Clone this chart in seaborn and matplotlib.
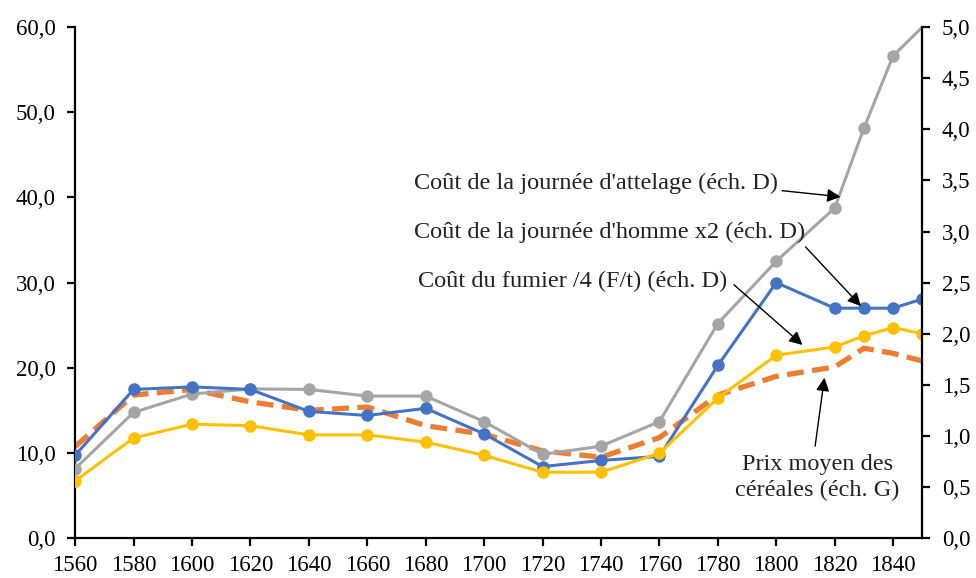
import matplotlib
matplotlib.use("Agg")
import matplotlib.pyplot as plt
import seaborn as sns
from matplotlib.ticker import FuncFormatter, MultipleLocator

years = [1560, 1580, 1600, 1620, 1640, 1660, 1680, 1700, 1720, 1740, 1760,
         1780, 1800, 1820, 1830, 1840, 1850]
# right scale (éch. D)
attelage = [0.68, 1.23, 1.41, 1.46, 1.455, 1.39, 1.39, 1.14, 0.82, 0.90, 1.14,
            2.10, 2.71, 3.23, 4.01, 4.72, 5.00]
homme_x2 = [0.81, 1.455, 1.48, 1.455, 1.24, 1.20, 1.27, 1.02, 0.70, 0.76, 0.80,
            1.69, 2.50, 2.25, 2.25, 2.25, 2.34]
fumier = [0.56, 0.98, 1.115, 1.10, 1.01, 1.01, 0.94, 0.81, 0.645, 0.645, 0.83,
          1.37, 1.79, 1.87, 1.98, 2.06, 2.00]
# left scale (éch. G)
cereales = [10.75, 16.8, 17.45, 16.0, 15.0, 15.4, 13.2, 12.2, 10.25, 9.5, 11.8,
            16.8, 19.0, 20.1, 22.3, 21.7, 20.8]

x_ticks = list(range(1560, 1841, 20))

sns.set_theme(style="ticks")
plt.rcParams["font.family"] = ["Liberation Serif", "DejaVu Serif"]

fig, ax = plt.subplots(figsize=(9.76, 5.78), dpi=100)
fig.subplots_adjust(left=0.077, right=0.945, bottom=0.069, top=0.953)
ax2 = ax.twinx()

# cereal price, dashed, left axis
sns.lineplot(x=years, y=cereales, ax=ax, color="#ED7D31", linewidth=3.8,
             linestyle="--", legend=False)
ax.lines[0].set_dashes((3.2, 1.6))

# right-axis series (the last attelage point has no marker in the source)
line_kw = dict(linewidth=2.2, marker="o", markersize=9, markeredgewidth=0,
               legend=False)
sns.lineplot(x=years, y=attelage, ax=ax2, color="#A5A5A5",
             markevery=list(range(len(years) - 1)), **line_kw)
sns.lineplot(x=years, y=homme_x2, ax=ax2, color="#4472C4", **line_kw)
sns.lineplot(x=years, y=fumier, ax=ax2, color="#FFC000", **line_kw)

ax.set_xlim(1560, 1850)
ax.set_ylim(0, 60)
ax2.set_ylim(0, 5)
ax.set_xticks(x_ticks)
ax.yaxis.set_major_locator(MultipleLocator(10))
ax2.yaxis.set_major_locator(MultipleLocator(0.5))

fr = FuncFormatter(lambda v, _: f"{v:.1f}".replace(".", ","))
ax.yaxis.set_major_formatter(fr)
ax2.yaxis.set_major_formatter(fr)

for a in (ax, ax2):
    a.set_xlabel("")
    a.set_ylabel("")
    a.spines["top"].set_visible(False)
    for s in ("left", "right", "bottom"):
        a.spines[s].set_linewidth(1.6)
        a.spines[s].set_color("black")
    a.tick_params(axis="y", direction="out", length=6, width=1.6,
                  labelsize=16.5, colors="black", pad=8)
    a.tick_params(axis="x", direction="out", length=6, width=1.6,
                  labelsize=16.5, colors="black", pad=6)
ax.spines["right"].set_visible(False)
ax2.spines["left"].set_visible(False)
ax2.spines["bottom"].set_visible(False)

arrow = dict(arrowstyle="-|>", color="black", lw=1.0, mutation_scale=20,
             shrinkA=0, shrinkB=0)
txt = dict(fontsize=17.5, color="#222222", va="center")

ax2.text(1676, 3.47, "Coût de la journée d'attelage (éch. D)", ha="left", **txt)
ax2.annotate("", xy=(1822, 3.34), xytext=(1802, 3.40), arrowprops=arrow)

ax2.text(1676, 2.99, "Coût de la journée d'homme x2 (éch. D)", ha="left", **txt)
ax2.annotate("", xy=(1829, 2.27), xytext=(1810, 2.85), arrowprops=arrow)

ax2.text(1677.5, 2.51, "Coût du fumier /4 (F/t) (éch. D)", ha="left", **txt)
ax2.annotate("", xy=(1809, 1.89), xytext=(1785.5, 2.48), arrowprops=arrow)

ax2.text(1814, 0.59, "Prix moyen des\ncéréales (éch. G)", ha="center",
         multialignment="center", linespacing=1.3, **txt)
ax2.annotate("", xy=(1816.5, 1.57), xytext=(1813.3, 0.90), arrowprops=arrow)

fig.savefig("out.png", dpi=100)
plt.close(fig)
